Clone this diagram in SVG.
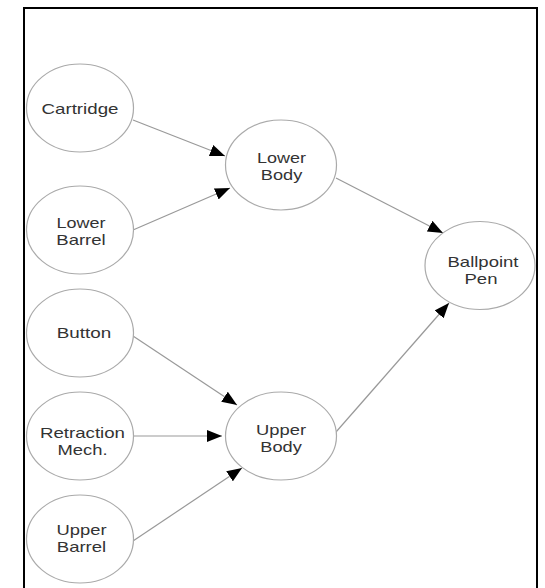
<svg xmlns="http://www.w3.org/2000/svg" width="545" height="588" viewBox="0 0 545 588">
<style>
.n ellipse{fill:#fff;stroke:#aaa;stroke-width:1.2}
.n text{font-family:"Liberation Sans",Arial,sans-serif;font-size:15px;fill:#333;text-anchor:middle}
.c line{stroke:#999;stroke-width:1.2;marker-end:url(#ah)}
</style>
<defs>
<marker id="ah" markerUnits="userSpaceOnUse" markerWidth="16" markerHeight="12" refX="15" refY="6" orient="auto">
<path d="M0,0 L15,6 L0,12 z" fill="#000"/>
</marker>
</defs>
<rect width="545" height="588" fill="#fff"/>
<path d="M24,592 V8 H537 V592" fill="none" stroke="#000" stroke-width="2"/>
<g class="c" id="connectors">
<line x1="133" y1="120" x2="225" y2="156"/>
<line x1="133" y1="230" x2="230" y2="188"/>
<line x1="336" y1="178" x2="443" y2="233"/>
<line x1="133" y1="336" x2="237" y2="405"/>
<line x1="133" y1="436" x2="222" y2="436"/>
<line x1="133" y1="541" x2="242" y2="468"/>
<line x1="336" y1="432" x2="449" y2="303"/>
</g>
<g class="n" id="cartridge"><ellipse cx="80" cy="108" rx="53.5" ry="44"/><text x="80" y="113.5" textLength="77" lengthAdjust="spacingAndGlyphs">Cartridge</text></g>
<g class="n" id="lower-barrel"><ellipse cx="80" cy="230" rx="53.5" ry="44"/><text x="81" y="228" textLength="49" lengthAdjust="spacingAndGlyphs">Lower</text><text x="81" y="245" textLength="49.5" lengthAdjust="spacingAndGlyphs">Barrel</text></g>
<g class="n" id="button"><ellipse cx="80" cy="333" rx="53.5" ry="44"/><text x="84" y="338" textLength="54.5" lengthAdjust="spacingAndGlyphs">Button</text></g>
<g class="n" id="retraction-mech"><ellipse cx="80" cy="436" rx="53.5" ry="44"/><text x="82.5" y="438.3" textLength="85" lengthAdjust="spacingAndGlyphs">Retraction</text><text x="82.5" y="455" textLength="50" lengthAdjust="spacingAndGlyphs">Mech.</text></g>
<g class="n" id="upper-barrel"><ellipse cx="80" cy="539" rx="53.5" ry="44"/><text x="81.5" y="535" textLength="50" lengthAdjust="spacingAndGlyphs">Upper</text><text x="81.5" y="552" textLength="49.5" lengthAdjust="spacingAndGlyphs">Barrel</text></g>
<g class="n" id="lower-body"><ellipse cx="281" cy="165" rx="55.5" ry="45"/><text x="281.5" y="163" textLength="49" lengthAdjust="spacingAndGlyphs">Lower</text><text x="281.5" y="180" textLength="41.5" lengthAdjust="spacingAndGlyphs">Body</text></g>
<g class="n" id="upper-body"><ellipse cx="281" cy="436" rx="55.5" ry="44"/><text x="281" y="434.5" textLength="50" lengthAdjust="spacingAndGlyphs">Upper</text><text x="281" y="451.5" textLength="41.5" lengthAdjust="spacingAndGlyphs">Body</text></g>
<g class="n" id="ballpoint-pen"><ellipse cx="480" cy="265.5" rx="55" ry="44"/><text x="483" y="266.5" textLength="71" lengthAdjust="spacingAndGlyphs">Ballpoint</text><text x="481" y="283.5" textLength="33" lengthAdjust="spacingAndGlyphs">Pen</text></g>
</svg>
